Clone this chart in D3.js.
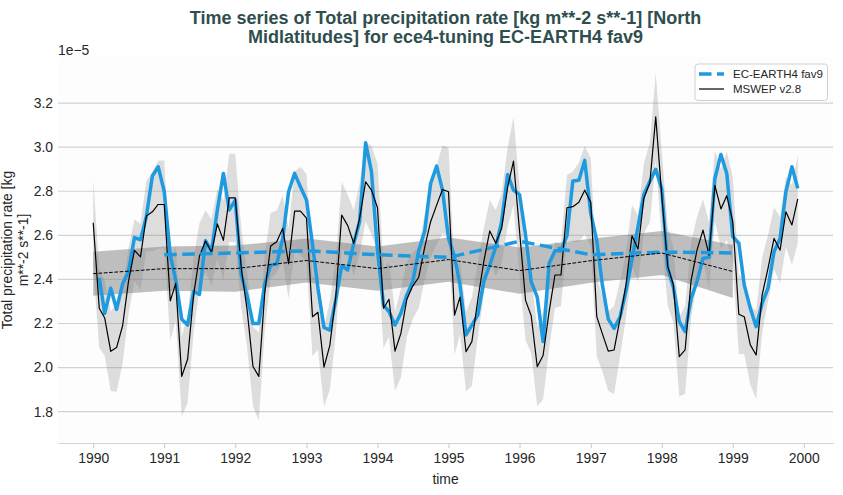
<!DOCTYPE html>
<html><head><meta charset="utf-8">
<script src="https://cdn.jsdelivr.net/npm/d3@7"></script>
<style>
body{margin:0;background:#fff}
text{font-family:"Liberation Sans",Arial,Helvetica,sans-serif}
</style>
</head><body>
<svg id="chart" width="843" height="495"></svg>
<script>
// ---------- data (units of 1e-5 kg m**-2 s**-1) ----------
const titleLines = ["Time series of Total precipitation rate [kg m**-2 s**-1] [North",
                    "Midlatitudes] for ece4-tuning EC-EARTH4 fav9"];
const yLabelLines = ["Total precipitation rate [kg", "m**-2 s**-1]"];
const xLabel = "time";
const offsetLabel = "1e\u22125";
const seriesNames = ["EC-EARTH4 fav9", "MSWEP v2.8"];

// MSWEP monthly, Jan 1990 - Dec 1999
const mswepMonthly = [
 2.657,2.269,2.225,2.074,2.091,2.190,2.390,2.532,2.502,2.688,2.707,2.740,
 2.740,2.303,2.382,1.960,2.038,2.330,2.505,2.574,2.523,2.652,2.577,2.770,
 2.770,2.450,2.269,2.005,1.960,2.344,2.552,2.571,2.632,2.472,2.710,2.710,
 2.678,2.231,2.251,2.002,2.101,2.325,2.692,2.644,2.564,2.677,2.843,2.805,
 2.725,2.269,2.310,2.075,2.155,2.310,2.370,2.410,2.548,2.662,2.737,2.808,
 2.798,2.238,2.320,2.072,2.118,2.310,2.480,2.620,2.564,2.632,2.820,2.937,
 2.620,2.305,2.235,2.004,2.055,2.254,2.420,2.420,2.725,2.730,2.750,2.805,
 2.750,2.231,2.155,2.075,2.080,2.224,2.375,2.598,2.538,2.768,2.840,3.138,
 2.780,2.458,2.378,2.050,2.080,2.397,2.533,2.624,2.510,2.827,2.720,2.780,
 2.662,2.242,2.231,2.103,2.057,2.330,2.450,2.586,2.533,2.707,2.647,2.765];
// spread of MSWEP monthly values by calendar month (Jan..Dec)
const mswepMonthSpread = [0.20,0.18,0.17,0.18,0.20,0.17,0.15,0.14,0.15,0.16,0.18,0.20];

// EC-EARTH4 fav9 monthly, Feb 1990 - Dec 1999
const ecMonthly = [
       2.408,2.246,2.360,2.264,2.380,2.435,2.590,2.580,2.685,2.869,2.911,
 2.798,2.510,2.397,2.219,2.193,2.345,2.332,2.576,2.530,2.715,2.881,2.715,
 2.760,2.420,2.330,2.200,2.200,2.380,2.465,2.470,2.586,2.798,2.881,2.820,
 2.760,2.560,2.360,2.182,2.170,2.310,2.462,2.443,2.564,2.662,3.020,2.889,
 2.530,2.284,2.254,2.193,2.246,2.330,2.390,2.530,2.620,2.835,2.914,2.805,
 2.586,2.503,2.375,2.148,2.193,2.239,2.390,2.465,2.548,2.662,2.876,2.805,
 2.785,2.600,2.390,2.320,2.118,2.472,2.530,2.530,2.600,2.847,2.850,2.940,
 2.700,2.575,2.380,2.220,2.178,2.231,2.347,2.490,2.640,2.785,2.845,2.900,
 2.810,2.450,2.367,2.209,2.163,2.314,2.390,2.496,2.500,2.858,2.967,2.881,
 2.594,2.564,2.375,2.269,2.186,2.292,2.360,2.526,2.586,2.798,2.911,2.813];

// annual means
const mswepYears = [1990,1991,1992,1993,1994,1995,1996,1997,1998,1999];
const mswepAnnual = [2.426,2.449,2.449,2.486,2.449,2.490,2.440,2.485,2.520,2.436];
const mswepAnnualStd = [0.100,0.100,0.105,0.100,0.100,0.100,0.105,0.100,0.100,0.120];
const ecYears = [1991,1992,1993,1994,1995,1996,1997,1998,1999];
const ecAnnual = [2.512,2.520,2.530,2.512,2.500,2.573,2.512,2.524,2.520];

const yTicks = [1.8,2.0,2.2,2.4,2.6,2.8,3.0,3.2];
const xTickYears = [1990,1991,1992,1993,1994,1995,1996,1997,1998,1999,2000];

// ---------- layout ----------
const W = 843, H = 495;
const M = {left:58, right:833, top:57, bottom:443};
const blue = "#1e9ae0";
const svg = d3.select("#chart");

const monthDate = (y0, m0, i) => new Date(y0, m0 + i, 1);
const mswepData = mswepMonthly.map((v,i)=>({t:monthDate(1990,0,i), v, s:mswepMonthSpread[i%12]}));
const ecData = ecMonthly.map((v,i)=>({t:monthDate(1990,1,i), v}));
const mswepAnn = mswepYears.map((y,i)=>({t:new Date(y,0,1), v:mswepAnnual[i], s:mswepAnnualStd[i]}));
const ecAnn = ecYears.map((y,i)=>({t:new Date(y,0,1), v:ecAnnual[i]}));

const t0 = mswepData[0].t, t1 = mswepData[mswepData.length-1].t;
const pad = (t1 - t0) * 0.05;
const x = d3.scaleTime().domain([new Date(+t0 - pad), new Date(+t1 + pad)]).range([M.left, M.right]);
const y = d3.scaleLinear().domain([1.658, 3.409]).range([M.bottom, M.top]);

svg.append("rect").attr("x",M.left).attr("y",M.top)
  .attr("width",M.right-M.left).attr("height",M.bottom-M.top).attr("fill","#fdfdfd");

// grid
svg.append("g").selectAll("line").data(yTicks).join("line")
  .attr("x1",M.left).attr("x2",M.right)
  .attr("y1",d=>y(d)).attr("y2",d=>y(d))
  .attr("stroke","#d2d2d2").attr("stroke-width",1.2);

// y tick labels
svg.append("g").selectAll("text").data(yTicks).join("text")
  .attr("x",M.left-5).attr("y",d=>y(d)).attr("dy","0.35em")
  .attr("text-anchor","end").attr("font-size","13.9px").attr("fill","#262626")
  .text(d=>d.toFixed(1));

// x axis
const xAxis = d3.axisBottom(x)
  .tickValues(xTickYears.map(yr=>new Date(yr,0,1)))
  .tickFormat(d3.timeFormat("%Y")).tickSize(5).tickSizeOuter(0).tickPadding(5);
const gx = svg.append("g").attr("transform",`translate(0,${M.bottom})`).call(xAxis);
gx.select(".domain").attr("stroke","#d2d2d2").attr("stroke-width",1.2);
gx.selectAll(".tick line").attr("stroke","#c8c8c8").attr("stroke-width",1);
gx.selectAll(".tick text").attr("font-size","13.9px").attr("fill","#262626")
  .attr("font-family","'Liberation Sans',Arial,sans-serif");

// bands
const area = d3.area().x(d=>x(d.t)).y0(d=>y(d.v - d.s)).y1(d=>y(d.v + d.s));
svg.append("path").datum(mswepData).attr("d",area)
  .attr("fill","#808080").attr("fill-opacity",0.25);
svg.append("path").datum(mswepAnn).attr("d",area)
  .attr("fill","#808080").attr("fill-opacity",0.5);

const line = d3.line().x(d=>x(d.t)).y(d=>y(d.v));
// EC-EARTH monthly
svg.append("path").datum(ecData).attr("d",line)
  .attr("fill","none").attr("stroke",blue).attr("stroke-width",3.5)
  .attr("stroke-linejoin","round");
// MSWEP monthly
svg.append("path").datum(mswepData).attr("d",line)
  .attr("fill","none").attr("stroke","#000").attr("stroke-width",1.2)
  .attr("stroke-linejoin","round");
// EC-EARTH annual
svg.append("path").datum(ecAnn).attr("d",line)
  .attr("fill","none").attr("stroke",blue).attr("stroke-width",3.5)
  .attr("stroke-dasharray","12.5,5.5");
// MSWEP annual
svg.append("path").datum(mswepAnn).attr("d",line)
  .attr("fill","none").attr("stroke","#000").attr("stroke-width",1)
  .attr("stroke-dasharray","3.7,1.6");

// title
svg.append("g").selectAll("text").data(titleLines).join("text")
  .attr("x",(M.left+M.right)/2).attr("y",(d,i)=>23.5+i*19)
  .attr("text-anchor","middle").attr("font-size","18px").attr("font-weight","bold")
  .attr("fill","#2f4f4f").text(d=>d);

// offset label
svg.append("text").attr("x",M.left).attr("y",55).attr("font-size","13.9px")
  .attr("fill","#262626").text(offsetLabel);

// y label
svg.append("g").selectAll("text").data(yLabelLines).join("text")
  .attr("transform",(d,i)=>`translate(${12+i*16},${(M.top+M.bottom)/2}) rotate(-90)`)
  .attr("text-anchor","middle").attr("font-size","13.9px").attr("fill","#262626")
  .text(d=>d);

// x label
svg.append("text").attr("x",(M.left+M.right)/2).attr("y",484)
  .attr("text-anchor","middle").attr("font-size","13.9px").attr("fill","#262626").text(xLabel);

// legend
const lg = svg.append("g");
lg.append("rect").attr("x",695).attr("y",64).attr("width",132.5).attr("height",36.5)
  .attr("rx",3).attr("fill","#fff").attr("fill-opacity",0.85)
  .attr("stroke","#d0d0d0").attr("stroke-width",1);
lg.append("line").attr("x1",699).attr("x2",724).attr("y1",74).attr("y2",74)
  .attr("stroke",blue).attr("stroke-width",3.5).attr("stroke-dasharray","12.5,5.5");
lg.append("line").attr("x1",699).attr("x2",724).attr("y1",89).attr("y2",89)
  .attr("stroke","#000").attr("stroke-width",1.2);
lg.selectAll("text.lt").data(seriesNames).join("text").attr("class","lt")
  .attr("x",733).attr("y",(d,i)=>74+i*15).attr("dy","0.35em")
  .attr("font-size","11.5px").attr("fill","#262626").text(d=>d);
</script>
</body></html>
